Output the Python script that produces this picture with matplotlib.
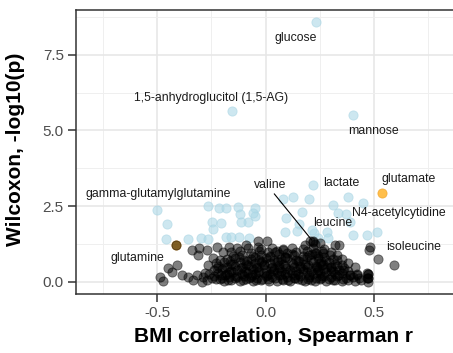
import matplotlib
matplotlib.use("Agg")
import matplotlib.pyplot as plt
from matplotlib.ticker import MultipleLocator

plt.rcParams['font.family'] = ['Liberation Sans', 'DejaVu Sans']

# ---------------- data ----------------
# non-significant metabolites (black)
black_x = [
    -0.487, -0.475, -0.449, -0.41, -0.433, -0.387, -0.357, -0.334, -0.341, -0.306, -0.31, -0.272, -0.226,
    -0.318, -0.28, -0.265, -0.241, -0.226, -0.21, -0.195, -0.188, -0.249, -0.295, -0.413,
    -0.27, -0.23, -0.19, -0.16, -0.12, -0.09, -0.06, -0.02, 0.01, 0.05, 0.08, 0.11, 0.15, 0.18, 0.21, 0.25, 0.28, 0.31, 0.35, 0.38, 0.41, 0.44,
    -0.29, -0.24, -0.20, -0.17, -0.13, -0.10, -0.07, -0.04, 0.00, 0.03, 0.06, 0.10, 0.13, 0.16, 0.20, 0.23, 0.26, 0.30, 0.33, 0.37, 0.40, 0.43, 0.47,
    -0.26, -0.22, -0.18, -0.15, -0.11, -0.08, -0.05, -0.01, 0.02, 0.05, 0.09, 0.12, 0.15, 0.19, 0.22, 0.25, 0.28, 0.32, 0.35, 0.39, 0.42, 0.47,
    -0.24, -0.20, -0.16, -0.13, -0.09, -0.06, -0.03, 0.00, 0.04, 0.07, 0.11, 0.14, 0.17, 0.21, 0.24, 0.27, 0.31, 0.34, 0.38,
    -0.22, -0.18, -0.14, -0.11, -0.07, -0.04, -0.01, 0.03, 0.06, 0.09, 0.13, 0.16, 0.19, 0.23, 0.26, 0.30, 0.33, 0.36, 0.41,
    -0.23, -0.19, -0.16, -0.12, -0.09, -0.05, -0.02, 0.02, 0.05, 0.08, 0.12, 0.15, 0.18, 0.22, 0.25, 0.29, 0.32, 0.38,
    -0.18, -0.14, -0.10, -0.07, -0.03, 0.00, 0.04, 0.07, 0.10, 0.14, 0.17, 0.21, 0.24, 0.28, 0.31, 0.35,
    -0.15, -0.11, -0.06, -0.02, 0.02, 0.06, 0.09, 0.13, 0.17, 0.20, 0.24, 0.27, 0.33,
    -0.16, -0.12, -0.07, -0.03, 0.01, 0.05, 0.10, 0.14, 0.19, 0.23, 0.26, 0.30,
    -0.13, -0.08, -0.02, 0.03, 0.08, 0.12, 0.17, 0.22, 0.27,
    -0.17, -0.09, -0.034, -0.034, 0.005, 0.043, 0.081, 0.18, 0.203, 0.226, 0.219, 0.25, 0.32, 0.34,
    0.48, 0.477, 0.519, 0.593, 0.47, 0.47, 0.22,
    0.227, 0.265, 0.296, 0.327, 0.35, 0.281, 0.388, 0.419, 0.468, 0.473, 0.358, 0.235, 0.468,
    # extra points in the dense core
    -0.21, -0.175, -0.14, -0.105, -0.075, -0.045, -0.015, 0.015, 0.045, 0.075, 0.105, 0.135, 0.165, 0.195, 0.225, 0.255, 0.29, 0.32, 0.355,
    -0.205, -0.17, -0.135, -0.10, -0.065, -0.035, 0.005, 0.035, 0.07, 0.10, 0.135, 0.17, 0.20, 0.235, 0.27, 0.30, 0.34,
    -0.19, -0.15, -0.115, -0.08, -0.045, -0.01, 0.025, 0.06, 0.095, 0.125, 0.16, 0.195, 0.23, 0.265, 0.30,
    -0.165, -0.125, -0.085, -0.05, -0.015, 0.02, 0.055, 0.09, 0.12, 0.155, 0.19, 0.215, 0.255,
]
black_y = [
    0.17, 0.02, 0.46, 0.55, 0.31, 0.22, 0.17, 0.06, 1.05, 1.10, 0.88, 1.05, 1.16,
    0.22, 0.28, 0.55, 0.77, 0.44, 0.72, 0.99, 0.22, 0.11, -0.02, 1.21,
    0.04, 0.08, 0.02, 0.06, 0.03, 0.09, 0.01, 0.05, 0.08, 0.02, 0.06, 0.03, 0.09, 0.01, 0.05, 0.08, 0.02, 0.06, 0.03, 0.07, 0.02, 0.05,
    0.16, 0.19, 0.13, 0.17, 0.14, 0.20, 0.15, 0.12, 0.18, 0.14, 0.21, 0.16, 0.12, 0.19, 0.15, 0.13, 0.18, 0.14, 0.20, 0.12, 0.17, 0.13, 0.12,
    0.27, 0.30, 0.25, 0.31, 0.26, 0.29, 0.24, 0.30, 0.27, 0.32, 0.25, 0.29, 0.26, 0.31, 0.24, 0.28, 0.32, 0.25, 0.29, 0.23, 0.27, 0.26,
    0.38, 0.41, 0.36, 0.40, 0.37, 0.43, 0.35, 0.39, 0.42, 0.36, 0.40, 0.37, 0.43, 0.35, 0.39, 0.41, 0.36, 0.40, 0.37,
    0.52, 0.48, 0.53, 0.49, 0.51, 0.47, 0.54, 0.50, 0.46, 0.53, 0.49, 0.52, 0.47, 0.51, 0.55, 0.48, 0.52, 0.46, 0.49,
    0.62, 0.65, 0.60, 0.64, 0.59, 0.63, 0.66, 0.61, 0.64, 0.58, 0.63, 0.67, 0.60, 0.64, 0.61, 0.65, 0.59, 0.62,
    0.74, 0.77, 0.72, 0.76, 0.73, 0.78, 0.71, 0.75, 0.79, 0.72, 0.76, 0.73, 0.77, 0.71, 0.75, 0.74,
    0.86, 0.89, 0.84, 0.88, 0.85, 0.90, 0.83, 0.87, 0.84, 0.89, 0.86, 0.83, 0.88,
    0.98, 1.01, 0.96, 1.00, 0.97, 1.02, 0.95, 0.99, 1.01, 0.96, 1.00, 0.97,
    1.10, 1.12, 1.08, 1.11, 1.07, 1.12, 1.09, 1.11, 1.08,
    1.15, 1.22, 1.33, 1.15, 1.33, 0.99, 1.05, 1.21, 1.33, 1.24, 1.33, 1.27, 1.21, 1.21,
    1.16, 1.05, 0.74, 0.55, 0.26, 0.12, 1.32,
    0.94, 0.94, 0.88, 0.72, 0.55, 0.50, 0.22, 0.22, 0.28, 0.00, 0.39, 0.50, 0.11,
    0.10, 0.07, 0.11, 0.04, 0.12, 0.06, 0.10, 0.03, 0.11, 0.08, 0.05, 0.12, 0.06, 0.10, 0.03, 0.11, 0.09, 0.04, 0.10,
    0.22, 0.33, 0.20, 0.34, 0.21, 0.33, 0.22, 0.35, 0.21, 0.32, 0.22, 0.34, 0.21, 0.33, 0.20, 0.34, 0.22,
    0.45, 0.57, 0.44, 0.56, 0.45, 0.58, 0.44, 0.56, 0.45, 0.57, 0.44, 0.56, 0.45, 0.57, 0.44,
    0.69, 0.81, 0.68, 0.80, 0.69, 0.82, 0.68, 0.80, 0.93, 0.69, 0.81, 0.93, 0.69,
]

# significant metabolites (light blue)
blue_x = [
    -0.502, -0.456, -0.461, -0.357, -0.300, -0.264, -0.264, -0.215, -0.183, -0.247, -0.208, -0.241,
    -0.185, -0.126, -0.118, -0.080, -0.112, -0.158, -0.125, -0.077, -0.049, -0.047, -0.057,
    0.081, 0.124, 0.200, 0.219, 0.166, 0.094, 0.153, 0.089, 0.143, 0.224, 0.281, 0.242,
    0.312, 0.379, 0.370, 0.335, 0.388, 0.404, 0.469, 0.512, 0.288, 0.212, 0.450,
    0.232, -0.157, 0.400,
]
blue_y = [
    2.37, 1.92, 1.40, 1.40, 1.43, 1.40, 2.49, 2.44, 2.44, 1.98, 1.93, 1.73,
    1.48, 2.48, 2.24, 1.98, 1.98, 1.49, 1.49, 1.43, 2.43, 2.16, 2.28,
    2.73, 2.80, 2.75, 3.20, 2.31, 2.10, 1.92, 1.65, 1.69, 1.62, 1.65, 1.43,
    2.55, 2.81, 2.24, 2.26, 1.98, 1.54, 1.53, 1.64, 1.43, 1.71, 2.59,
    8.60, 5.64, 5.51,
]

# highlighted metabolites (orange)
orange_names = ["glutamate", "glutamine"]
orange_x = [0.535, -0.413]
orange_y = [2.92, 1.21]

label_names = ["glucose", "1,5-anhydroglucitol (1,5-AG)", "mannose", "glutamate", "lactate",
               "valine", "leucine", "N4-acetylcytidine", "isoleucine",
               "gamma-glutamylglutamine", "glutamine"]

x_ticks = [-0.5, 0.0, 0.5]
y_ticks = [0.0, 2.5, 5.0, 7.5]

# ---------------- layout ----------------
label_pos = [(0.140, 8.07), (-0.252, 6.06), (0.496, 4.98), (0.660, 3.38), (0.350, 3.27),
             (0.020, 3.20), (0.309, 1.95), (0.614, 2.26), (0.683, 1.16),
             (-0.496, 2.90), (-0.592, 0.77)]
valine_seg = ((0.040, 2.90), (0.212, 1.38))

W, H = 453, 353
fig = plt.figure(figsize=(W / 100, H / 100), dpi=100)
ax = fig.add_axes([76 / W, (H - 294) / H, (W - 76) / W, (294 - 9.5) / H])

ax.set_xlim(-0.874, 0.863)
ax.set_ylim(-0.407, 9.0)

ax.set_axisbelow(True)
ax.xaxis.set_major_locator(MultipleLocator(0.5))
ax.xaxis.set_minor_locator(MultipleLocator(0.25))
ax.yaxis.set_major_locator(MultipleLocator(2.5))
ax.yaxis.set_minor_locator(MultipleLocator(1.25))
ax.grid(which='major', color='#e6e6e6', lw=1.1)
ax.grid(which='minor', color='#efefef', lw=0.7)
ax.tick_params(which='minor', length=0)
ax.tick_params(which='major', length=5.8, width=1.1, color='#333333',
               labelsize=11, labelcolor='#4d4d4d', pad=3)
ax.set_xticks(x_ticks)
ax.set_yticks(y_ticks)
ax.set_xticklabels([f"{v:.1f}" for v in x_ticks])
ax.set_yticklabels([f"{v:.1f}" for v in y_ticks])

for s in ['left', 'bottom', 'top']:
    ax.spines[s].set_color('#333333')
    ax.spines[s].set_linewidth(1.1)
ax.spines['right'].set_visible(False)

ms = 44
ax.scatter(blue_x, blue_y, s=ms, color='#add8e6', alpha=0.6, edgecolors='#a5d3e3', linewidths=0.6, zorder=2)
ax.scatter(orange_x, orange_y, s=ms, color='#ffa500', alpha=0.7, edgecolors='#f0a020', linewidths=0.6, zorder=2)
ax.scatter(black_x, black_y, s=ms, color='black', alpha=0.5, edgecolors='black', linewidths=0.6, zorder=3)

(x0, y0), (x1, y1) = valine_seg
ax.plot([x0, x1], [y0, y1], color='black', lw=0.8, zorder=4)

for name, (tx, ty) in zip(label_names, label_pos):
    ax.text(tx, ty, name, fontsize=8.8, color='#1a1a1a', ha='center', va='center', zorder=5)

fig.text(273 / W, 1 - 337 / H, "BMI correlation, Spearman r", fontsize=15, fontweight='bold',
         ha='center', va='center')
fig.text(16 / W, 1 - 149 / H, "Wilcoxon, -log10(p)", fontsize=15, fontweight='bold',
         ha='center', va='center', rotation=90)

fig.savefig("out.png", dpi=100)
